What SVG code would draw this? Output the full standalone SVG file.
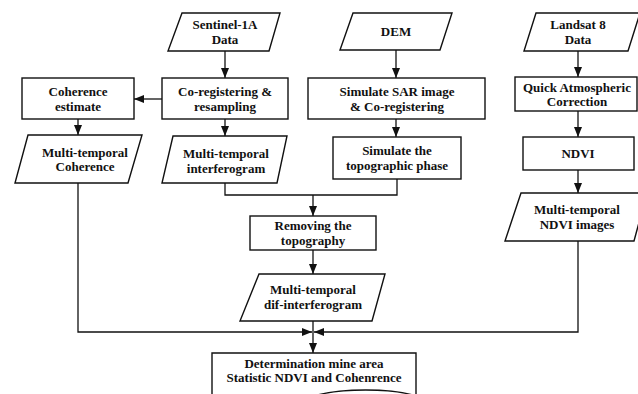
<svg xmlns="http://www.w3.org/2000/svg" width="638" height="394" viewBox="0 0 638 394">
<defs>
<marker id="arr" markerUnits="userSpaceOnUse" markerWidth="10" markerHeight="10" viewBox="0 0 10 10" refX="10" refY="5" orient="auto">
<path d="M0,1 L10,5 L0,9 Z" fill="#111"/>
</marker>
</defs>
<style>
.s{fill:#fff;stroke:#111;stroke-width:1.4}
.c{fill:none;stroke:#111;stroke-width:1.3}
.a{marker-end:url(#arr)}
</style>
<rect width="638" height="394" fill="#fff"/>
<g id="connectors">
<line class="c a" x1="225" y1="51" x2="225" y2="78"/>
<line class="c a" x1="162" y1="99" x2="134" y2="99"/>
<line class="c a" x1="78" y1="119" x2="78" y2="135"/>
<line class="c a" x1="225" y1="119" x2="225" y2="136"/>
<line class="c a" x1="396" y1="50" x2="396" y2="78"/>
<line class="c a" x1="396" y1="119" x2="396" y2="137"/>
<line class="c a" x1="578" y1="51" x2="578" y2="77"/>
<line class="c a" x1="578" y1="111" x2="578" y2="137"/>
<line class="c a" x1="578" y1="170" x2="578" y2="193"/>
<polyline class="c" points="225,183 225,195 397,195 397,179"/>
<line class="c a" x1="313" y1="195" x2="313" y2="216"/>
<line class="c a" x1="313" y1="250" x2="313" y2="274"/>
<line class="c a" x1="313" y1="321" x2="313" y2="353"/>
<polyline class="c a" points="78,183 78,332 312,332"/>
<polyline class="c a" points="578,241 578,332 314,332"/>
</g>
<g font-family="Liberation Serif, Times New Roman, serif" font-weight="bold" font-size="13" fill="#111" text-anchor="middle">
<g id="sentinel">
<polygon class="s" points="182,13 280,13 269,51 168,51"/>
<text x="225" y="29">Sentinel-1A</text>
<text x="225" y="44">Data</text>
</g>
<g id="coreg">
<rect class="s" x="162" y="78" width="126" height="41"/>
<text x="225" y="96">Co-registering &amp;</text>
<text x="225" y="111">resampling</text>
</g>
<g id="coherence-estimate">
<rect class="s" x="22" y="78" width="112" height="41"/>
<text x="78" y="96">Coherence</text>
<text x="78" y="111">estimate</text>
</g>
<g id="mt-coherence">
<polygon class="s" points="28,135 142,135 128,183 15,183"/>
<text x="85" y="157">Multi-temporal</text>
<text x="85" y="171">Coherence</text>
</g>
<g id="mt-interferogram">
<polygon class="s" points="173,136 287,136 277,183 162,183"/>
<text x="226" y="158">Multi-temporal</text>
<text x="226" y="173">interferogram</text>
</g>
<g id="dem">
<polygon class="s" points="353,13 452,13 440,50 340,50"/>
<text x="396" y="36">DEM</text>
</g>
<g id="simulate-sar">
<rect class="s" x="308" y="78" width="177" height="41"/>
<text x="397" y="96">Simulate SAR image</text>
<text x="397" y="111">&amp; Co-registering</text>
</g>
<g id="topo-phase">
<rect class="s" x="333" y="137" width="128" height="42"/>
<text x="397" y="155">Simulate the</text>
<text x="397" y="170">topographic phase</text>
</g>
<g id="landsat">
<polygon class="s" points="536,13 640,13 628,51 524,51"/>
<text x="578" y="29">Landsat 8</text>
<text x="578" y="44">Data</text>
</g>
<g id="quick-atm">
<rect class="s" x="515" y="77" width="122" height="34"/>
<text x="577" y="92">Quick Atmospheric</text>
<text x="577" y="106">Correction</text>
</g>
<g id="ndvi">
<rect class="s" x="523" y="137" width="111" height="33"/>
<text x="578" y="158">NDVI</text>
</g>
<g id="mt-ndvi">
<polygon class="s" points="521,193 647,193 634,241 505,241"/>
<text x="577" y="214">Multi-temporal</text>
<text x="577" y="229">NDVI images</text>
</g>
<g id="removing">
<rect class="s" x="250" y="216" width="126" height="34"/>
<text x="313" y="230">Removing the</text>
<text x="313" y="245">topography</text>
</g>
<g id="dif-interferogram">
<polygon class="s" points="259,274 385,274 372,321 240,321"/>
<text x="313" y="294">Multi-temporal</text>
<text x="313" y="309">dif-interferogram</text>
</g>
<g id="determination">
<path class="s" d="M212,353 H416 V396 C392,388 340,388 314,396 C285,404 240,404 212,400 Z"/>
<text x="314" y="368">Determination mine area</text>
<text x="314" y="382">Statistic NDVI and Cohenrence</text>
</g>
</g>
</svg>
